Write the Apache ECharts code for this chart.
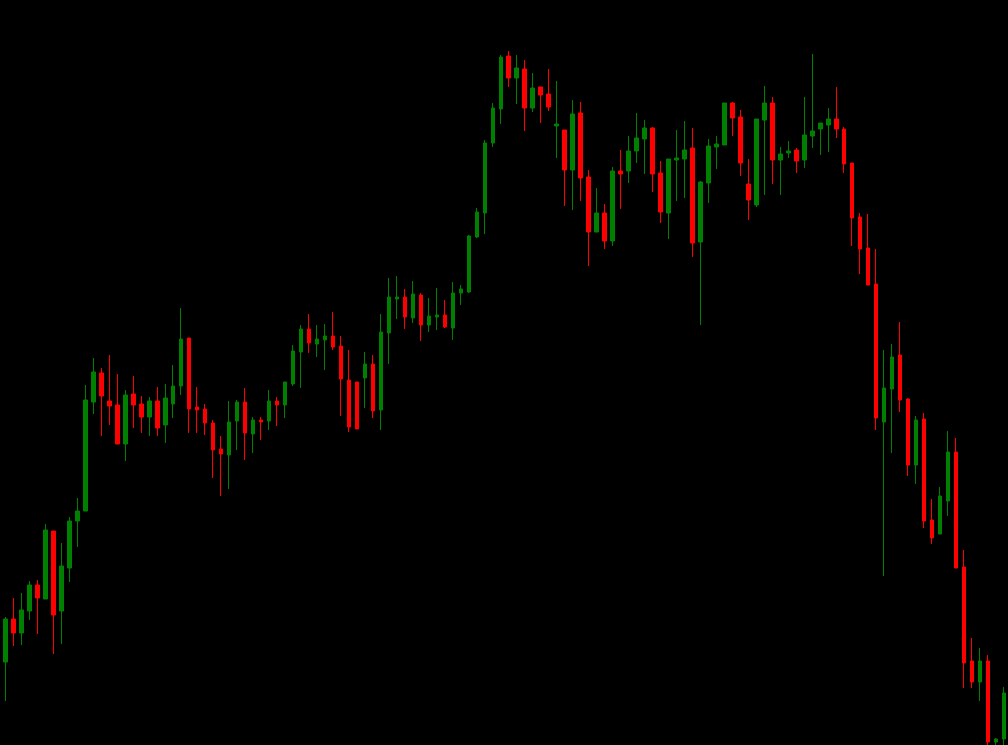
<!DOCTYPE html>
<html>
<head>
<meta charset="utf-8">
<script src="https://cdn.jsdelivr.net/npm/echarts@6/dist/echarts.min.js"></script>
<style>
html,body{margin:0;padding:0;background:#000;}
#c{width:1008px;height:745px;}
</style>
</head>
<body>
<div id="c"></div>
<script>
// Price values (arbitrary units), one entry per bar
var opens = [83,126,112,134,160,146,214,134,177,224,234,343,372,344,340,301,351,341,328,344,320,341,359,407,338,336,322,296,290,324,343,311,325,324,344,340,361,393,416,401,405,409,399,365,363,367,381,335,412,446,448,427,450,420,428,430,417,452,453,508,532,602,636,689,667,676,637,658,651,619,615,575,632,568,513,532,504,574,574,594,606,617,572,532,585,586,597,503,562,598,600,642,628,561,540,625,642,585,592,595,585,609,616,620,626,616,582,528,497,461,323,356,390,346,280,326,225,211,244,293,178,84,63,84,3,6];
var closes = [126,112,135,160,147,215,130,179,224,234,345,373,349,339,301,350,340,328,344,317,347,359,406,336,335,322,295,291,323,343,312,325,323,344,340,363,394,416,402,406,409,398,366,318,316,381,334,413,448,448,428,451,420,429,430,418,452,456,509,533,602,637,688,667,677,637,657,650,638,621,575,631,567,513,532,504,574,571,594,607,617,571,533,586,587,595,502,563,599,601,642,627,582,545,626,642,585,591,594,584,610,614,622,626,616,581,527,496,460,327,357,388,345,280,325,224,207,249,293,177,82,63,84,3,6,52];
var lows = [44,99,100,125,111,146,91,101,163,198,234,331,309,320,301,284,317,312,309,309,302,327,350,312,312,310,267,249,256,295,285,292,305,315,319,327,359,357,392,388,375,395,329,313,316,337,327,315,381,426,416,422,404,413,415,417,405,440,452,507,511,598,621,658,641,614,633,622,634,587,539,535,544,479,513,496,499,536,562,582,571,553,522,506,544,547,488,420,542,576,600,609,569,525,538,550,561,550,587,572,577,597,590,593,607,572,499,471,460,315,169,292,333,269,261,217,201,211,229,177,57,57,44,-5,-5,-5];
var highs = [128,147,152,164,165,221,214,202,228,247,360,387,377,390,371,355,369,349,348,358,361,380,437,407,358,341,325,309,344,345,357,328,328,355,348,363,400,420,431,420,421,433,409,395,363,393,390,431,467,469,456,464,452,447,457,445,463,460,510,537,605,642,690,694,690,685,672,658,676,664,615,645,643,575,557,541,578,595,609,632,625,618,584,586,615,624,617,564,606,609,642,643,635,586,626,659,648,598,604,597,648,691,622,637,658,618,582,532,531,496,395,401,423,347,329,332,246,258,314,307,195,107,97,90,7,58];
var categories = opens.map(function(_, i){ return 'B' + (i + 1); });

var ohlc = opens.map(function(o, i){ return [o, closes[i], lows[i], highs[i]]; });

var chart = echarts.init(document.getElementById('c'));
chart.setOption({
  backgroundColor: '#000000',
  animation: false,
  grid: { left: 1.5, top: 0, width: 1008, height: 745 },
  xAxis: {
    type: 'category',
    data: categories,
    boundaryGap: true,
    show: false
  },
  yAxis: {
    type: 'value',
    min: 0,
    max: 745,
    show: false,
    splitLine: { show: false }
  },
  series: [{
    type: 'candlestick',
    data: ohlc,
    barWidth: 4,
    itemStyle: {
      color: '#008000',
      color0: '#ff0000',
      borderColor: '#008000',
      borderColor0: '#ff0000',
      borderWidth: 1
    }
  }]
});
</script>
</body>
</html>
